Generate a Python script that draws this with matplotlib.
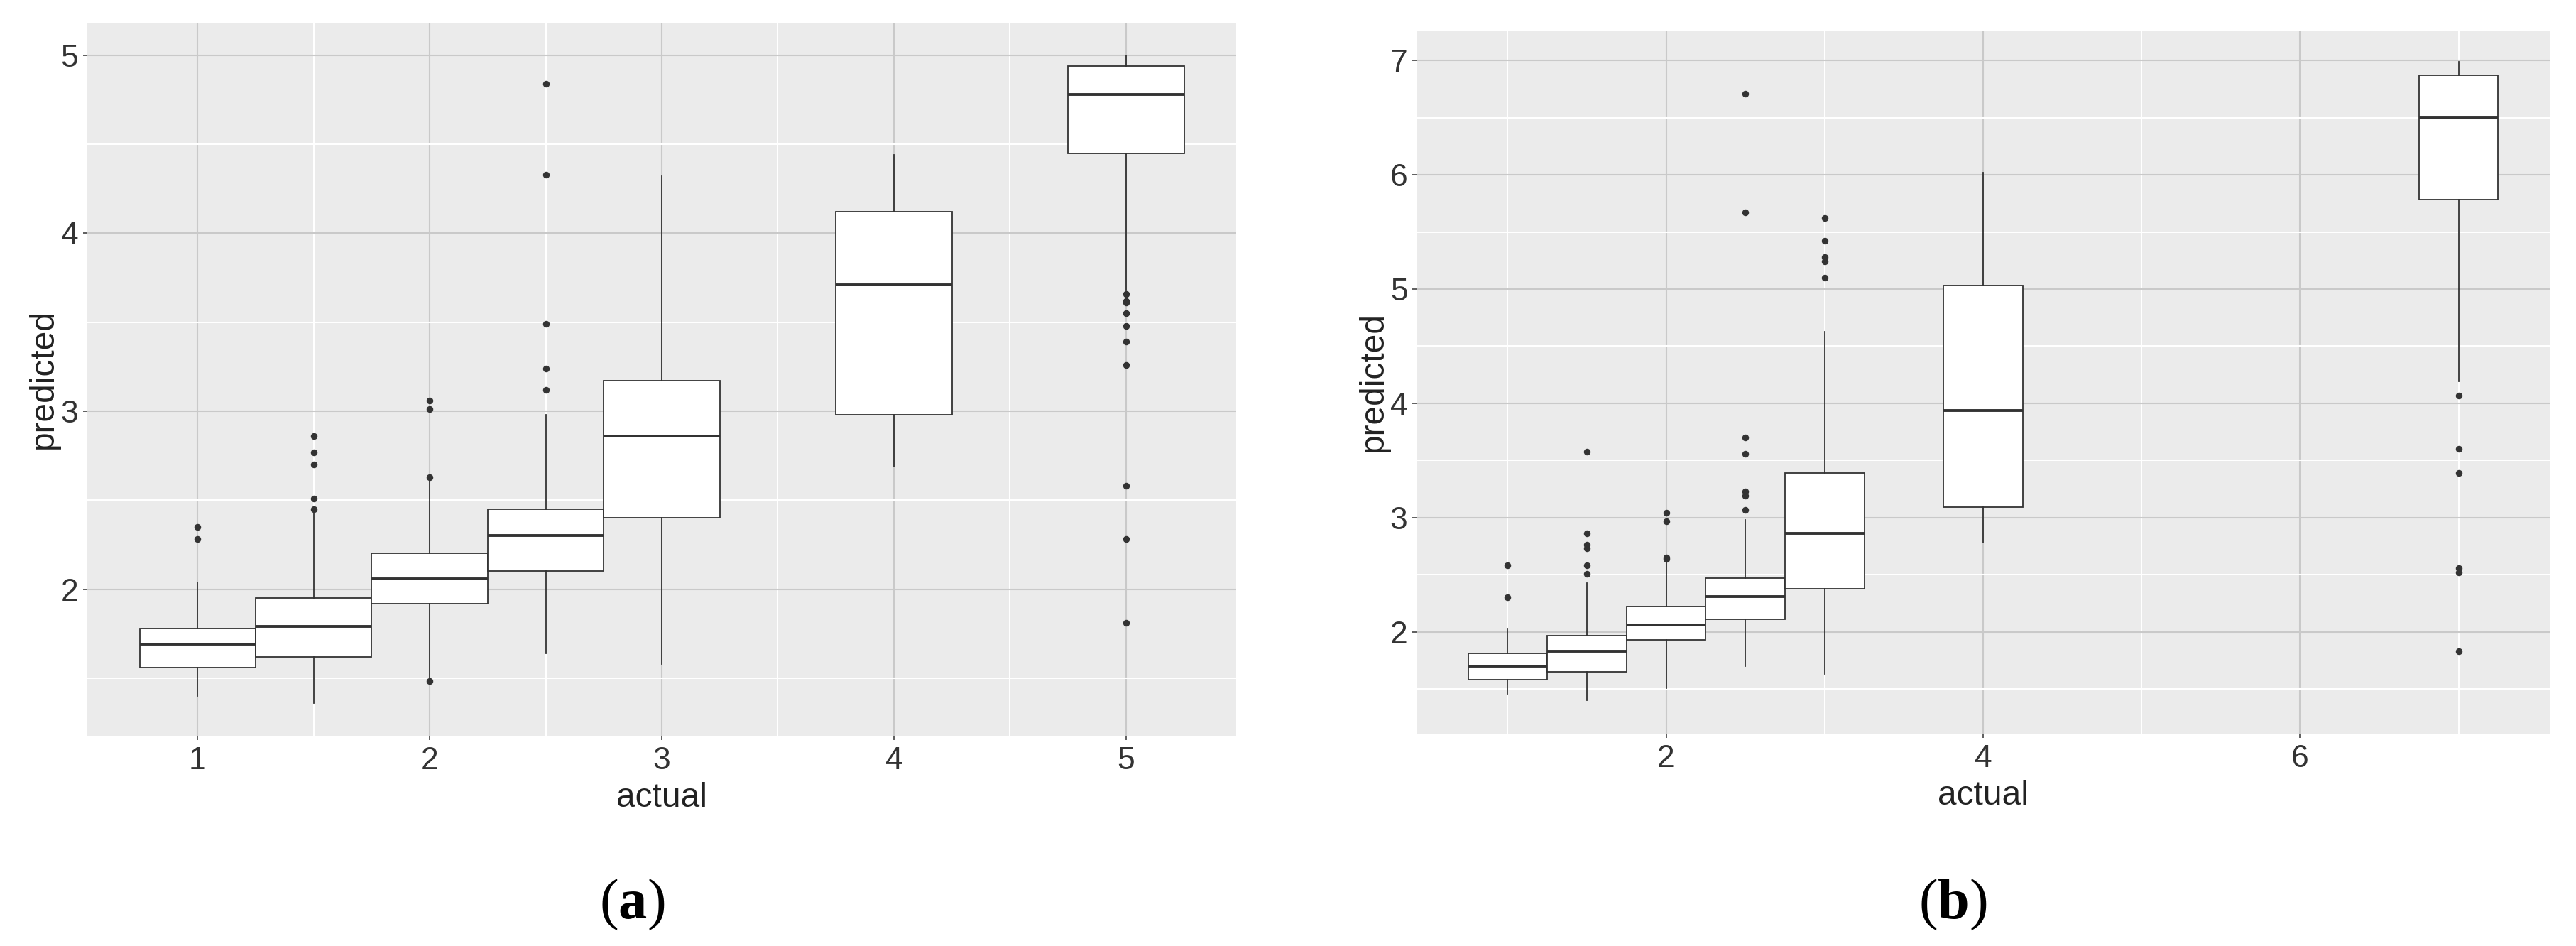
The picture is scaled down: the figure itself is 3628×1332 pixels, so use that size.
import numpy as np
import matplotlib
matplotlib.use("Agg")
import matplotlib.pyplot as plt

# ==========================================
# DATA
# ==========================================
# panel (a)
pos_a = [1, 1.5, 2, 2.5, 3, 4, 5]
whislo_a = [1.40, 1.36, 1.50, 1.64, 1.58, 2.69, 3.68]
q1_a = [1.56, 1.62, 1.92, 2.10, 2.40, 2.98, 4.45]
med_a = [1.69, 1.79, 2.06, 2.30, 2.86, 3.71, 4.78]
q3_a = [1.78, 1.95, 2.20, 2.45, 3.17, 4.12, 4.94]
whishi_a = [2.04, 2.43, 2.615, 2.98, 4.32, 4.44, 5.00]
fliers_a = [[2.35, 2.28],
            [2.86, 2.77, 2.70, 2.51, 2.45],
            [3.06, 3.01, 2.63, 1.485],
            [4.84, 4.33, 3.49, 3.24, 3.12],
            [],
            [],
            [3.66, 3.62, 3.61, 3.55, 3.48, 3.39, 3.26, 2.58, 2.28, 1.81]]

# panel (b)
pos_b = [1, 1.5, 2, 2.5, 3, 4, 7]
whislo_b = [1.46, 1.40, 1.51, 1.70, 1.63, 2.78, 4.19]
q1_b = [1.58, 1.65, 1.93, 2.11, 2.38, 3.09, 5.78]
med_b = [1.70, 1.83, 2.06, 2.31, 2.86, 3.94, 6.50]
q3_b = [1.81, 1.97, 2.22, 2.47, 3.39, 5.03, 6.87]
whishi_b = [2.03, 2.43, 2.63, 2.98, 4.63, 6.02, 6.99]
fliers_b = [[2.58, 2.30],
            [3.58, 2.86, 2.76, 2.73, 2.58, 2.51],
            [3.04, 2.97, 2.65, 2.64],
            [6.71, 5.67, 3.70, 3.56, 3.23, 3.19, 3.07],
            [5.62, 5.42, 5.28, 5.24, 5.10],
            [],
            [4.07, 3.60, 3.39, 2.56, 2.52, 1.83]]

xticks_a = [1, 2, 3, 4, 5]
xminor_a = [1.5, 2.5, 3.5, 4.5]
yticks_a = [2, 3, 4, 5]
yminor_a = [1.5, 2.5, 3.5, 4.5]

xticks_b = [2, 4, 6]
xminor_b = [1, 3, 5, 7]
yticks_b = [2, 3, 4, 5, 6, 7]
yminor_b = [1.5, 2.5, 3.5, 4.5, 5.5, 6.5]

# ==========================================
# STYLE
# ==========================================
plt.rcParams['font.family'] = ['Liberation Sans', 'DejaVu Sans']
plt.rcParams['mathtext.fontset'] = 'custom'
plt.rcParams['mathtext.bf'] = 'Liberation Serif:bold'
plt.rcParams['mathtext.rm'] = 'Liberation Serif'

PANEL_BG = '#EBEBEB'
MAJOR_GRID = '#C9C9C9'
LINE_COL = '#333333'
TEXT_COL = '#333333'


def draw_panel(ax, pos, whislo, q1, med, q3, whishi, fliers,
               xticks, xminor, yticks, yminor, xlim, ylim):
    stats = []
    for i in range(len(pos)):
        stats.append(dict(whislo=whislo[i], q1=q1[i], med=med[i], q3=q3[i],
                          whishi=whishi[i], fliers=fliers[i]))
    ax.bxp(stats, positions=pos, widths=0.5, patch_artist=True,
           showcaps=False, manage_ticks=False,
           boxprops=dict(facecolor='white', edgecolor=LINE_COL, linewidth=1.3),
           whiskerprops=dict(color=LINE_COL, linewidth=1.3),
           medianprops=dict(color=LINE_COL, linewidth=2.8),
           flierprops=dict(marker='o', markersize=5.8, markerfacecolor=LINE_COL,
                           markeredgecolor=LINE_COL, linestyle='none'))

    ax.set_facecolor(PANEL_BG)
    for s in ax.spines.values():
        s.set_visible(False)
    ax.set_xlim(*xlim)
    ax.set_ylim(*ylim)
    ax.set_xticks(xticks)
    ax.set_yticks(yticks)
    ax.set_xticks(xminor, minor=True)
    ax.set_yticks(yminor, minor=True)
    ax.set_axisbelow(True)
    ax.grid(True, which='minor', color='white', linewidth=1.5)
    ax.grid(True, which='major', color=MAJOR_GRID, linewidth=1.5)
    ax.tick_params(which='minor', length=0)
    ax.tick_params(axis='both', which='major', length=4.5, width=1.1,
                   color=LINE_COL, labelsize=32, labelcolor=TEXT_COL)
    ax.tick_params(axis='x', pad=6.5)
    ax.tick_params(axis='y', pad=4.5)
    ax.set_xlabel('actual', fontsize=34.5, color='#222222', labelpad=6)
    ax.set_ylabel('predicted', fontsize=34.5, color='#222222', labelpad=1)


fig = plt.figure(figsize=(36.28, 13.32), dpi=100)

ax_a = fig.add_axes([0.0339, 0.2222, 0.4460, 0.7538])
draw_panel(ax_a, pos_a, whislo_a, q1_a, med_a, q3_a, whishi_a, fliers_a,
           xticks_a, xminor_a, yticks_a, yminor_a,
           (0.525, 5.475), (1.176, 5.183))

ax_b = fig.add_axes([0.5499, 0.2245, 0.4399, 0.7432])
draw_panel(ax_b, pos_b, whislo_b, q1_b, med_b, q3_b, whishi_b, fliers_b,
           xticks_b, xminor_b, yticks_b, yminor_b,
           (0.425, 7.575), (1.11, 7.262))

# sub-figure labels
fig.text(890 / 3628, 1 - 1274 / 1332, r'($\mathbf{a}$)', family='Liberation Serif',
         fontsize=58, ha='center', va='center', color='black')
fig.text(2750 / 3628, 1 - 1274 / 1332, r'($\mathbf{b}$)', family='Liberation Serif',
         fontsize=58, ha='center', va='center', color='black')

fig.savefig('out.png', dpi=100, facecolor='white')
